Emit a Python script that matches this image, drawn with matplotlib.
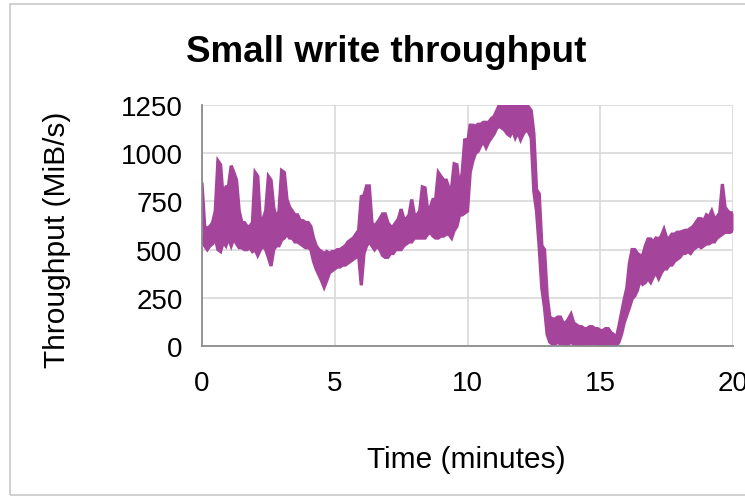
import numpy as np
import matplotlib
matplotlib.use("Agg")
import matplotlib.pyplot as plt
from matplotlib.patches import Rectangle

title = "Small write throughput"
x_label = "Time (minutes)"
y_label = "Throughput (MiB/s)"
x_ticks = [0, 5, 10, 15, 20]
y_ticks = [0, 250, 500, 750, 1000, 1250]

# per 0.1-minute bin (t = 0.0 ... 20.0): peak and trough of the noisy throughput line
peak = [
    840, 620, 610, 620, 640, 700, 960, 940, 760, 825,      # 0.0-0.9
    830, 935, 900, 860, 700, 640, 640, 620, 620, 640,      # 1.0-1.9
    900, 880, 640, 660, 700, 880, 860, 720, 660, 700,      # 2.0-2.9
    910, 900, 760, 720, 700, 680, 680, 650, 650, 640,      # 3.0-3.9
    640, 620, 560, 520, 500, 490, 480, 490, 480, 490,      # 4.0-4.9
    490, 500, 500, 510, 520, 540, 550, 560, 580, 600,      # 5.0-5.9
    775, 780, 830, 830, 640, 620, 640, 660, 685, 685,      # 6.0-6.9
    640, 620, 620, 640, 660, 710, 660, 660, 680, 760,      # 7.0-7.9
    680, 680, 700, 825, 820, 700, 720, 760, 760, 900,      # 8.0-8.9
    880, 860, 860, 820, 820, 945, 940, 820, 900, 1075,     # 9.0-9.9
    1050, 1145, 1145, 1140, 1150, 1150, 1160, 1160, 1160, 1180,  # 10.0-10.9
    1190, 1220, 1250, 1250, 1250, 1250, 1250, 1250, 1250, 1250,  # 11.0-11.9
    1250, 1250, 1250, 1240, 1220, 1100, 810, 790, 520, 500,      # 12.0-12.9
    260, 150, 140, 140, 150, 150, 120, 120, 140, 165,      # 13.0-13.9
    120, 110, 100, 100, 90, 90, 100, 100, 90, 90,          # 14.0-14.9
    80, 80, 90, 90, 70, 60, 40, 100, 170, 240,             # 15.0-15.9
    300, 430, 500, 500, 480, 470, 470, 520, 555, 555,      # 16.0-16.9
    540, 560, 555, 570, 605, 560, 560, 580, 580, 590,      # 17.0-17.9
    590, 595, 600, 600, 610, 620, 640, 660, 660, 650,      # 18.0-18.9
    680, 670, 700, 660, 670, 690, 840, 720, 700, 690,      # 19.0-19.9
    690,                                                   # 20.0
]
trough = [
    560, 520, 500, 520, 530, 560, 500, 490, 540, 520,      # 0.0-0.9
    560, 520, 560, 530, 510, 510, 500, 500, 510, 490,      # 1.0-1.9
    500, 470, 500, 520, 500, 460, 415, 500, 520, 520,      # 2.0-2.9
    550, 560, 580, 560, 560, 540, 540, 530, 520, 510,      # 3.0-3.9
    510, 500, 440, 400, 370, 340, 305, 340, 380, 390,      # 4.0-4.9
    400, 410, 410, 420, 420, 430, 440, 450, 460, 470,      # 5.0-5.9
    315, 480, 520, 540, 520, 500, 520, 500, 470, 460,      # 6.0-6.9
    460, 480, 480, 500, 500, 500, 520, 530, 540, 540,      # 7.0-7.9
    560, 560, 560, 560, 560, 580, 590, 570, 560, 560,      # 8.0-8.9
    570, 570, 580, 580, 560, 600, 620, 680, 680, 690,      # 9.0-9.9
    700, 900, 960, 1000, 1010, 1040, 1060, 1030, 1060, 1080,     # 10.0-10.9
    1100, 1130, 1140, 1130, 1120, 1100, 1090, 1120, 1080, 1110,  # 11.0-11.9
    1070, 1100, 1120, 1110, 1080, 800, 700, 515, 300, 200,       # 12.0-12.9
    60, 20, 10, 10, 20, 10, 10, 0, 10, 20,                 # 13.0-13.9
    10, 0, 10, 0, 10, 0, 0, 5, 0, 0,                       # 14.0-14.9
    0, 0, 0, 0, 0, 0, 0, 20, 60, 120,                      # 15.0-15.9
    160, 200, 245, 260, 290, 340, 320, 330, 350, 330,      # 16.0-16.9
    360, 380, 350, 380, 400, 400, 420, 420, 440, 450,      # 17.0-17.9
    460, 480, 480, 490, 480, 500, 510, 520, 510, 520,      # 18.0-18.9
    530, 530, 540, 540, 560, 570, 580, 590, 590, 590,      # 19.0-19.9
    600,                                                   # 20.0
]
time_min = np.linspace(0, 20, len(peak))

W, H = 745, 502
fig = plt.figure(figsize=(W / 100, H / 100), dpi=100)
fig.patch.set_facecolor("white")
plt.rcParams["font.family"] = ["Liberation Sans", "DejaVu Sans"]

# chart border (Excel-style chart area)
fig.patches.append(Rectangle((10 / W, 1 - 496 / H), 760 / W, 491 / H,
                             transform=fig.transFigure, fill=False,
                             edgecolor="#c8c8c8", linewidth=1.2, zorder=0))

left, right, top, bottom = 202, 733, 106, 347
ax = fig.add_axes([left / W, 1 - bottom / H, (right - left) / W, (bottom - top) / H])
color = "#A4449B"
ax.fill_between(time_min, trough, peak, color=color, linewidth=0)
ax.plot(time_min, peak, color=color, linewidth=2.4, solid_joinstyle="miter")
ax.plot(time_min, trough, color=color, linewidth=2.4, solid_joinstyle="miter")
ax.set_xlim(0, 20)
ax.set_ylim(0, 1250)
ax.set_xticks(x_ticks)
ax.set_yticks(y_ticks)
ax.set_xticklabels([str(v) for v in x_ticks])
ax.set_yticklabels([str(v) for v in y_ticks])
ax.grid(True, color="#d9d9d9", linewidth=1.2)
ax.set_axisbelow(True)
for s in ["top", "right"]:
    ax.spines[s].set_visible(False)
for s in ["left", "bottom"]:
    ax.spines[s].set_color("#8c8c8c")
    ax.spines[s].set_linewidth(1.3)
ax.tick_params(axis="both", length=0, labelsize=20, colors="black")
ax.tick_params(axis="x", pad=17)
ax.tick_params(axis="y", pad=14)

fig.text(386 / W, 1 - 52 / H, title, ha="center", va="center",
         fontsize=26.5, fontweight="bold")
fig.text(466 / W, 1 - 460 / H, x_label, ha="center", va="center", fontsize=21.5)
fig.text(57 / W, 1 - 240 / H, y_label, ha="center", va="center", fontsize=21.5,
         rotation=90)

fig.savefig("out.png", dpi=100)
